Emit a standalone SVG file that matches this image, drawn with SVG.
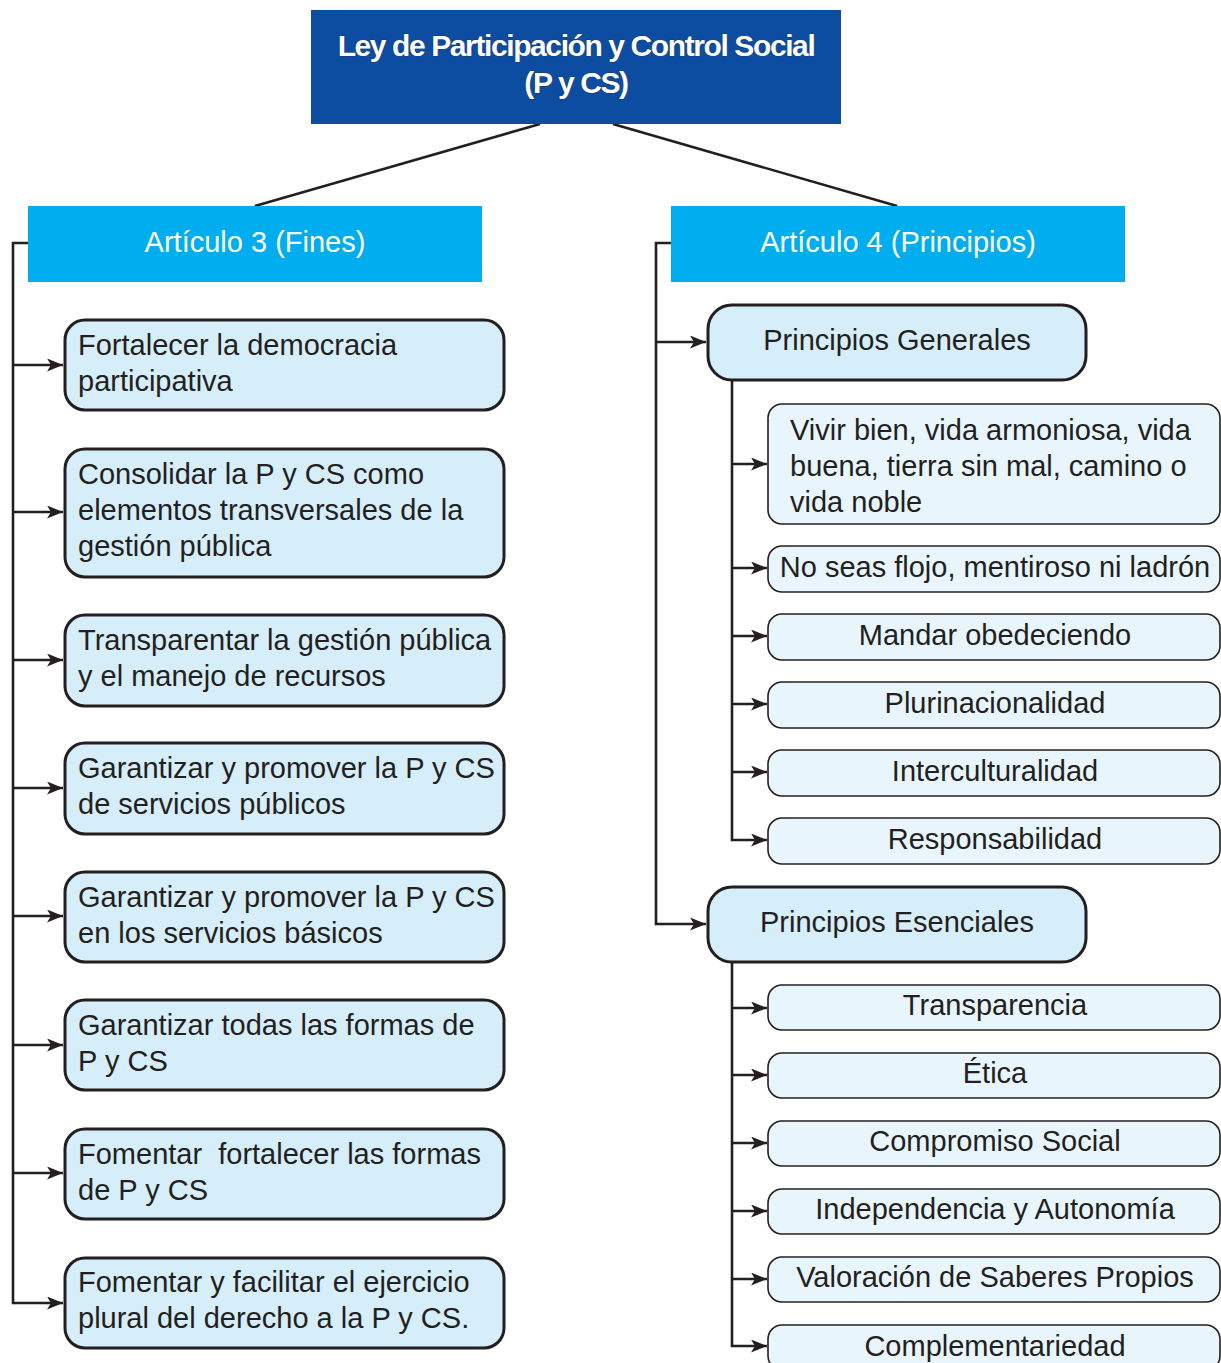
<svg xmlns="http://www.w3.org/2000/svg" width="1221" height="1363" viewBox="0 0 1221 1363">
<style>
.t{font-family:"Liberation Sans",Arial,sans-serif;font-size:29px;fill:#231f20}
.c{text-anchor:middle}
.w{fill:#ffffff}
.ttl{font-family:"Liberation Sans",Arial,sans-serif;font-size:30px;letter-spacing:-1.4px;font-weight:bold;fill:#ffffff;text-anchor:middle;stroke:#1b2a4a;stroke-width:0.7;paint-order:stroke}
.art{fill:#00aeef}
.lb{fill:#d6edfa;stroke:#231f20;stroke-width:3}
.sb{fill:#e8f5fc;stroke:#231f20;stroke-width:1.6}
.ln{fill:none;stroke:#231f20;stroke-width:2.6}
</style>
<defs>
<marker id="ah" markerUnits="userSpaceOnUse" markerWidth="18" markerHeight="14" refX="16" refY="6.5" orient="auto">
<path d="M0,0 L16,6.5 L0,13 L4,6.5 z" fill="#231f20"/>
</marker>
</defs>
<rect width="1221" height="1363" fill="#ffffff"/>
<g id="connectors">
<path class="ln" d="M540,124 L255,206"/>
<path class="ln" d="M613,124 L897,206"/>
<path class="ln" d="M28,243 H13 V1303 H63" marker-end="url(#ah)"/>
<path class="ln" d="M13,365 H63" marker-end="url(#ah)"/>
<path class="ln" d="M13,512 H63" marker-end="url(#ah)"/>
<path class="ln" d="M13,660 H63" marker-end="url(#ah)"/>
<path class="ln" d="M13,788 H63" marker-end="url(#ah)"/>
<path class="ln" d="M13,916 H63" marker-end="url(#ah)"/>
<path class="ln" d="M13,1045 H63" marker-end="url(#ah)"/>
<path class="ln" d="M13,1173 H63" marker-end="url(#ah)"/>
<path class="ln" d="M671,243 H656 V924 H706" marker-end="url(#ah)"/>
<path class="ln" d="M656,342 H706" marker-end="url(#ah)"/>
<path class="ln" d="M732,380 V840 H767" marker-end="url(#ah)"/>
<path class="ln" d="M732,464 H767" marker-end="url(#ah)"/>
<path class="ln" d="M732,568 H767" marker-end="url(#ah)"/>
<path class="ln" d="M732,636 H767" marker-end="url(#ah)"/>
<path class="ln" d="M732,704 H767" marker-end="url(#ah)"/>
<path class="ln" d="M732,772 H767" marker-end="url(#ah)"/>
<path class="ln" d="M732,962 V1346 H767" marker-end="url(#ah)"/>
<path class="ln" d="M732,1008 H767" marker-end="url(#ah)"/>
<path class="ln" d="M732,1075 H767" marker-end="url(#ah)"/>
<path class="ln" d="M732,1143 H767" marker-end="url(#ah)"/>
<path class="ln" d="M732,1211 H767" marker-end="url(#ah)"/>
<path class="ln" d="M732,1279 H767" marker-end="url(#ah)"/>
</g>
<g id="title">
<rect x="311" y="10" width="530" height="114" fill="#0d4da1"/>
<text class="ttl" x="576" y="56">Ley de Participación y Control Social</text>
<text class="ttl" x="576" y="93">(P y CS)</text>
</g>
<g id="art3">
<rect class="art" x="28" y="206" width="454" height="76"/>
<text class="t w c" x="255" y="252">Artículo 3 (Fines)</text>
</g>
<g id="art4">
<rect class="art" x="671" y="206" width="454" height="76"/>
<text class="t w c" x="898" y="252">Artículo 4 (Principios)</text>
</g>
<g id="f1">
<rect class="lb" x="65" y="320" width="439" height="90" rx="20"/>
<text class="t" x="78" y="355">Fortalecer la democracia</text>
<text class="t" x="78" y="391">participativa</text>
</g>
<g id="f2">
<rect class="lb" x="65" y="449" width="439" height="128" rx="20"/>
<text class="t" x="78" y="484">Consolidar la P y CS como</text>
<text class="t" x="78" y="520">elementos transversales de la</text>
<text class="t" x="78" y="556">gestión pública</text>
</g>
<g id="f3">
<rect class="lb" x="65" y="615" width="439" height="91" rx="20"/>
<text class="t" x="78" y="650">Transparentar la gestión pública</text>
<text class="t" x="78" y="686">y el manejo de recursos</text>
</g>
<g id="f4">
<rect class="lb" x="65" y="743" width="439" height="91" rx="20"/>
<text class="t" x="78" y="778">Garantizar y promover la P y CS</text>
<text class="t" x="78" y="814">de servicios públicos</text>
</g>
<g id="f5">
<rect class="lb" x="65" y="872" width="439" height="90" rx="20"/>
<text class="t" x="78" y="907">Garantizar y promover la P y CS</text>
<text class="t" x="78" y="943">en los servicios básicos</text>
</g>
<g id="f6">
<rect class="lb" x="65" y="1000" width="439" height="90" rx="20"/>
<text class="t" x="78" y="1035">Garantizar todas las formas de</text>
<text class="t" x="78" y="1071">P y CS</text>
</g>
<g id="f7">
<rect class="lb" x="65" y="1129" width="439" height="90" rx="20"/>
<text class="t" x="78" y="1164" xml:space="preserve">Fomentar  fortalecer las formas</text>
<text class="t" x="78" y="1200">de P y CS</text>
</g>
<g id="f8">
<rect class="lb" x="65" y="1258" width="439" height="90" rx="20"/>
<text class="t" x="78" y="1292">Fomentar y facilitar el ejercicio</text>
<text class="t" x="78" y="1328">plural del derecho a la P y CS.</text>
</g>
<g id="pgen">
<rect class="lb" x="708" y="305" width="378" height="75" rx="24"/>
<text class="t c" x="897" y="350">Principios Generales</text>
</g>
<g id="g1">
<rect class="sb" x="768" y="404" width="452" height="120" rx="14"/>
<text class="t" x="790" y="440">Vivir bien, vida armoniosa, vida</text>
<text class="t" x="790" y="476">buena, tierra sin mal, camino o</text>
<text class="t" x="790" y="512">vida noble</text>
</g>
<g id="g2">
<rect class="sb" x="768" y="546" width="452" height="46" rx="14"/>
<text class="t c" x="995" y="577">No seas flojo, mentiroso ni ladrón</text>
</g>
<g id="g3">
<rect class="sb" x="768" y="614" width="452" height="46" rx="14"/>
<text class="t c" x="995" y="645">Mandar obedeciendo</text>
</g>
<g id="g4">
<rect class="sb" x="768" y="682" width="452" height="46" rx="14"/>
<text class="t c" x="995" y="713">Plurinacionalidad</text>
</g>
<g id="g5">
<rect class="sb" x="768" y="750" width="452" height="46" rx="14"/>
<text class="t c" x="995" y="781">Interculturalidad</text>
</g>
<g id="g6">
<rect class="sb" x="768" y="818" width="452" height="46" rx="14"/>
<text class="t c" x="995" y="849">Responsabilidad</text>
</g>
<g id="pesen">
<rect class="lb" x="708" y="887" width="378" height="75" rx="24"/>
<text class="t c" x="897" y="932">Principios Esenciales</text>
</g>
<g id="e1">
<rect class="sb" x="768" y="985" width="452" height="45" rx="14"/>
<text class="t c" x="995" y="1015">Transparencia</text>
</g>
<g id="e2">
<rect class="sb" x="768" y="1053" width="452" height="45" rx="14"/>
<text class="t c" x="995" y="1083">Ética</text>
</g>
<g id="e3">
<rect class="sb" x="768" y="1121" width="452" height="45" rx="14"/>
<text class="t c" x="995" y="1151">Compromiso Social</text>
</g>
<g id="e4">
<rect class="sb" x="768" y="1189" width="452" height="45" rx="14"/>
<text class="t c" x="995" y="1219">Independencia y Autonomía</text>
</g>
<g id="e5">
<rect class="sb" x="768" y="1257" width="452" height="45" rx="14"/>
<text class="t c" x="995" y="1287">Valoración de Saberes Propios</text>
</g>
<g id="e6">
<rect class="sb" x="768" y="1325" width="452" height="45" rx="14"/>
<text class="t c" x="995" y="1356">Complementariedad</text>
</g>
</svg>
